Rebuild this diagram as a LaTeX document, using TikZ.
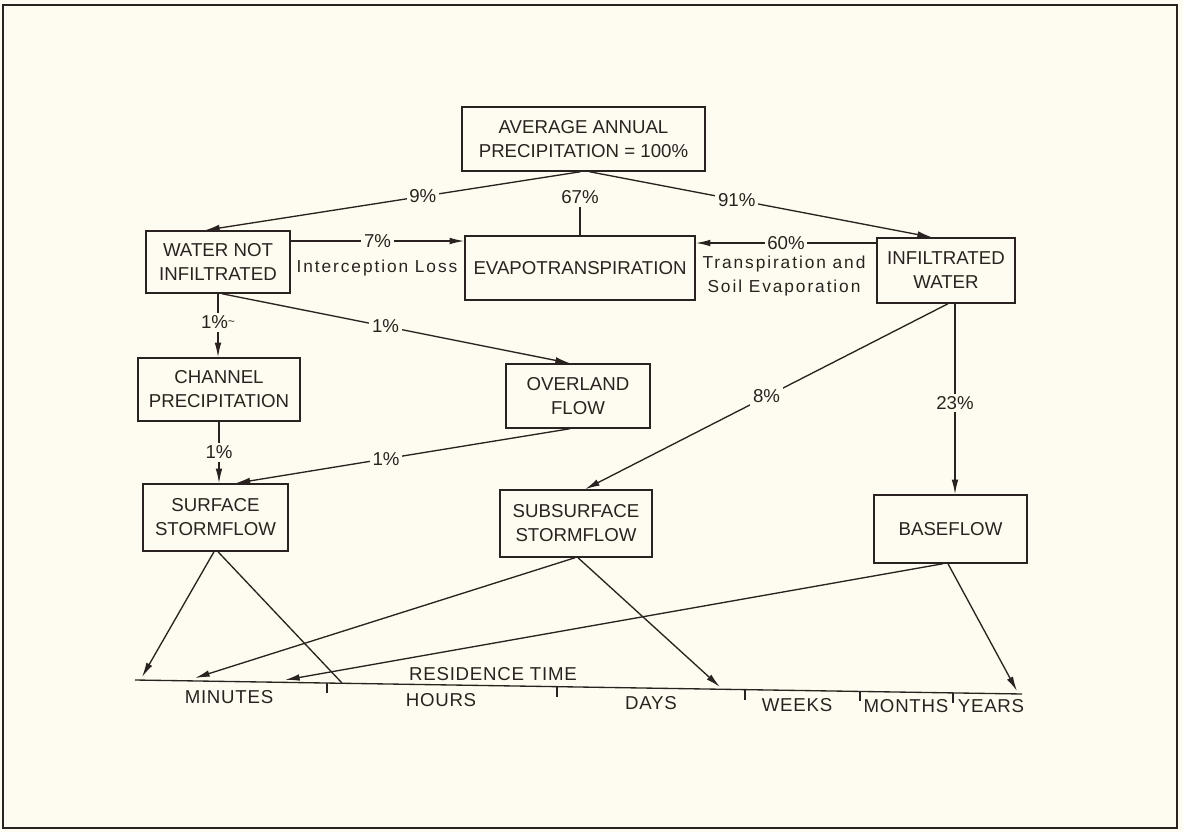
\documentclass[tikz,border=0pt]{standalone}
\usepackage{fontspec}
\setmainfont{Liberation Sans}
\newfontfamily\notefont[LetterSpace=11]{Liberation Sans}
\newfontfamily\axfont[LetterSpace=4]{Liberation Sans}
\usetikzlibrary{arrows.meta,calc}
\definecolor{bg}{HTML}{FEFCF0}
\definecolor{ink}{HTML}{2A2220}
\newdimen\pxu \pxu=0.75pt
\begin{document}
\begin{tikzpicture}[x=0.75pt,y=-0.75pt,
  box/.style={draw=ink, line width=1.1pt, text=ink, align=center, inner sep=0pt,
    font=\fontsize{14}{18}\selectfont},
  lbl/.style={fill=bg, text=ink, inner sep=2pt, font=\fontsize{14}{17}\selectfont},
  note/.style={text=ink, align=center, inner sep=0pt, font=\notefont\fontsize{13}{18}\selectfont},
  axlbl/.style={text=ink, inner sep=0pt, font=\axfont\fontsize{14}{17}\selectfont},
  conn/.style={draw=ink, line width=1pt},
  arr/.style={conn, -{Latex[length=11pt,width=5pt]}},
]
\fill[bg] (0,0) rectangle (1183,832);
\useasboundingbox (0,0) rectangle (1183,832);
\draw[ink, line width=1.6pt] (3,5) rectangle (1177,828);

% boxes
\node[box, minimum width=243\pxu, minimum height=64\pxu] (prec) at (583.5,139) {AVERAGE ANNUAL\\PRECIPITATION = 100\%};
\node[box, minimum width=144\pxu, minimum height=62\pxu] (wni) at (218,262) {WATER NOT\\INFILTRATED};
\node[box, minimum width=230\pxu, minimum height=64\pxu] (et) at (580,268) {EVAPOTRANSPIRATION};
\node[box, minimum width=138\pxu, minimum height=65\pxu] (inf) at (946,270.5) {INFILTRATED\\WATER};
\node[box, minimum width=162\pxu, minimum height=63\pxu] (chan) at (219,389.5) {CHANNEL\\PRECIPITATION};
\node[box, minimum width=144\pxu, minimum height=64\pxu] (over) at (578,396) {OVERLAND\\FLOW};
\node[box, minimum width=145\pxu, minimum height=67\pxu] (surf) at (215.5,517.5) {SURFACE\\STORMFLOW};
\node[box, minimum width=152\pxu, minimum height=67\pxu] (sub) at (576,523.5) {SUBSURFACE\\STORMFLOW};
\node[box, minimum width=153\pxu, minimum height=68\pxu] (base) at (950.5,529) {BASEFLOW};

% top connectors
\draw[arr] ($(prec.south)+(-3,0)$) -- node[lbl, pos=0.42] {9\%} ($(wni.north)+(-13,0)$);
\draw[arr] ($(prec.south)+(6,0)$) -- node[lbl, pos=0.43] {91\%} ($(inf.north)+(-14,0)$);
\node[lbl] (n67) at (580,197) {67\%};
\draw[conn] (n67.south) -- (n67.south |- et.north);

\draw[arr] (wni.east |- 0,241) -- node[lbl] {7\%} (et.west |- 0,241);
\node[note] (il) at (377,268) {Interception Loss};
\draw[arr] (inf.west |- 0,243) -- node[lbl] {60\%} (et.east |- 0,243);
\node[note] (tse) at (784,276) {Transpiration and\\Soil Evaporation};

% middle connectors
\draw[arr] (wni.south) -- node[lbl, pos=0.45] {1\%{\fontsize{9}{9}\selectfont\raisebox{0.5ex}{\textasciitilde}}} (wni.south |- chan.north);
\draw[arr] ($(wni.south)+(4,0)$) -- node[lbl, pos=0.47] {1\%} ($(over.north)+(-8,0)$);
\draw[arr] (chan.south) -- node[lbl] {1\%} (chan.south |- surf.north);
\draw[arr] ($(over.south)+(-8,0)$) -- node[lbl, pos=0.55] {1\%} ($(surf.north)+(20,0)$);
\draw[arr] ($(inf.south)+(2,0)$) -- node[lbl, pos=0.5] {8\%} ($(sub.north)+(9,0)$);
\coordinate (i23) at ($(inf.south)+(9,0)$);
\draw[arr] (i23) -- node[lbl, pos=0.52] {23\%} (i23 |- base.north);

% residence time axis
\coordinate (ax0) at (135,680);
\coordinate (ax1) at (1022,694);
\draw[conn] (ax0) -- (ax1);
\foreach \tx/\ty in {327/683, 557/686.7, 745/689.6, 860/691.4, 953/692.9}
  \draw[conn] (\tx,\ty) -- ++(0,10);
\node[axlbl] (rt) at (493,674) {RESIDENCE TIME};
\node[axlbl] (mi) at (229,697) {MINUTES};
\node[axlbl] (ho) at (441,700) {HOURS};
\node[axlbl] (da) at (651,703) {DAYS};
\node[axlbl] (we) at (797,705) {WEEKS};
\node[axlbl] (mo) at (906,706) {MONTHS};
\node[axlbl] (ye) at (991,706) {YEARS};

\coordinate (t1) at (142,677);
\coordinate (t2) at (342,683);
\coordinate (t3) at (195,678);
\coordinate (t4) at (720,687);
\coordinate (t5) at (285,680);
\coordinate (t6) at (1017,691);

\draw[arr] ($(surf.south)+(-1.5,0)$) -- (t1);
\draw[conn] ($(surf.south)+(2.5,0)$) -- (t2);
\draw[arr] ($(sub.south)+(-1,0)$) -- (t3);
\draw[arr] ($(sub.south)+(2,0)$) -- (t4);
\draw[arr] ($(base.south)+(-7.5,0)$) -- (t5);
\draw[arr] ($(base.south)+(-2.5,0)$) -- (t6);
\end{tikzpicture}
\end{document}
